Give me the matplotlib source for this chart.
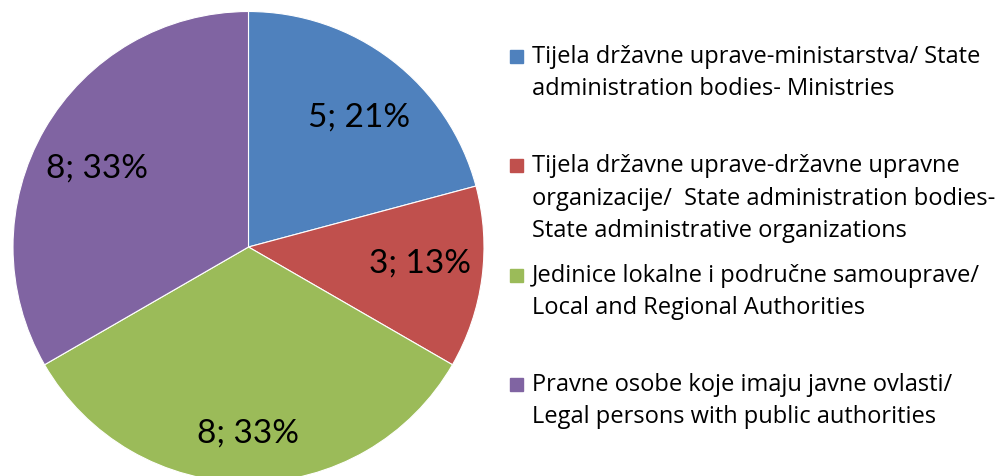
import numpy as np
import matplotlib.pyplot as plt
from matplotlib.patches import Rectangle

plt.rcParams['font.family'] = ['Lato', 'DejaVu Sans']

# data
counts = [5, 3, 8, 8]
categories = [
    'Tijela državne uprave-ministarstva/ State\nadministration bodies- Ministries',
    'Tijela državne uprave-državne upravne\norganizacije/  State administration bodies-\nState administrative organizations',
    'Jedinice lokalne i područne samouprave/\nLocal and Regional Authorities',
    'Pravne osobe koje imaju javne ovlasti/\nLegal persons with public authorities',
]
colors = ['#4F81BD', '#C0504D', '#9BBB59', '#8064A2']

W, H = 997, 476
fig = plt.figure(figsize=(W / 100, H / 100), dpi=100)
ax = fig.add_axes([0, 0, 1, 1])

# pie in pixel units (y up), slightly cut at the bottom like the original
cx, cy, r = 248.5, H - 247, 235.5
wedges, _ = ax.pie(counts, colors=colors, startangle=90, counterclock=False,
                   center=(cx, cy), radius=r,
                   wedgeprops=dict(edgecolor='white', linewidth=0.8))
ax.set_xlim(0, W)
ax.set_ylim(0, H)
ax.set_aspect('auto')
ax.axis('off')

# data labels "n; p%"
total = sum(counts)
lab_dist = [0.725, 0.73, 0.79, 0.725]
lab_shift = [-3, 2, 0, 2.5]  # degrees
for w, n, d, s in zip(wedges, counts, lab_dist, lab_shift):
    ang = np.deg2rad((w.theta1 + w.theta2) / 2 + s)
    pct = int(100 * n / total + 0.5)
    ax.text(cx + d * r * np.cos(ang), cy + d * r * np.sin(ang), f'{n}; {pct}%',
            ha='center', va='center', fontsize=24, color='black')

# legend drawn by hand (entries evenly spaced)
for i, (lab, col) in enumerate(zip(categories, colors)):
    base = 63 + 109.3 * i
    ax.add_patch(Rectangle((510, H - base), 13, 13, color=col, clip_on=False))
    for j, line in enumerate(lab.split('\n')):
        ax.text(532, H - (base + 32.3 * j), line, ha='left', va='baseline',
                fontsize=17, color='black', family=['Open Sans', 'DejaVu Sans'])

fig.savefig('out.png', dpi=100)
